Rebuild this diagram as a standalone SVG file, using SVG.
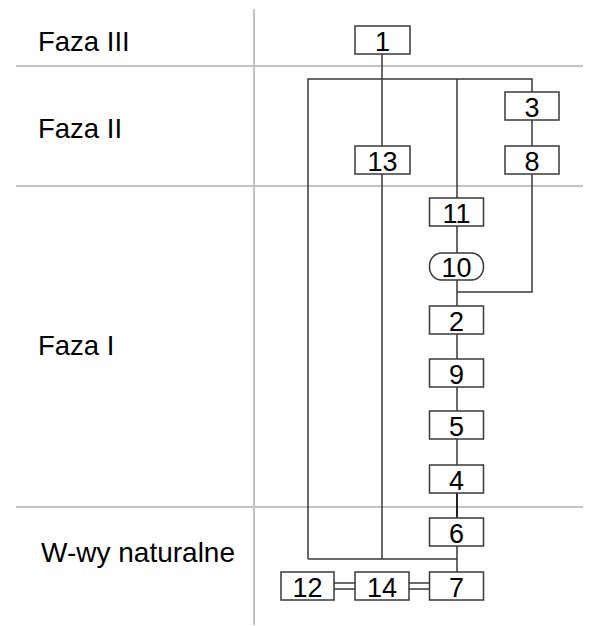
<svg xmlns="http://www.w3.org/2000/svg" width="589" height="626" viewBox="0 0 589 626">
<style>
.grid{stroke:#c4c4c4;stroke-width:2;fill:none}
.lbl{font-family:"Liberation Sans",Arial,sans-serif;font-size:27.5px;fill:#000}
.box{fill:#fff;stroke:#3a3a3a;stroke-width:1.5}
.num{font-family:"Liberation Sans",Arial,sans-serif;font-size:27px;fill:#000;text-anchor:middle}
.con{stroke:#3a3a3a;stroke-width:1.5;fill:none}
</style>
<rect width="589" height="626" fill="#fff"/>
<g id="grid">
<line class="grid" x1="254" y1="9" x2="254" y2="625"/>
<line class="grid" x1="16" y1="66" x2="583" y2="66"/>
<line class="grid" x1="16" y1="186" x2="583" y2="186"/>
<line class="grid" x1="16" y1="507" x2="583" y2="507"/>
</g>
<g id="labels">
<text class="lbl" x="38" y="51">Faza III</text>
<text class="lbl" x="38" y="138">Faza II</text>
<text class="lbl" x="38" y="355">Faza I</text>
<text class="lbl" x="41" y="562" style="font-size:28px">W-wy naturalne</text>
</g>
<g id="connectors">
<path class="con" d="M382,54V146M382,174V559"/>
<path class="con" d="M308,559V79H532V92M532,120V146M532,174V292H457"/>
<path class="con" d="M457,79V198M457,226V253M457,280V306M457,334V359M457,387V411M457,439V465M457,546V572"/>
<path class="con" d="M457,493V518" style="stroke:#222;stroke-width:2"/>
<path class="con" d="M308,559H457"/>
<path class="con" d="M334,583H355M334,589H355M409,583H429M409,589H429"/>
</g>
<g id="n1"><rect class="box" x="355" y="26" width="55" height="28"/><text class="num" x="382.5" y="50.7">1</text></g>
<g id="n3"><rect class="box" x="505" y="92" width="54" height="28"/><text class="num" x="532" y="116.7">3</text></g>
<g id="n13"><rect class="box" x="355" y="146" width="55" height="28"/><text class="num" x="382.5" y="170.7">13</text></g>
<g id="n8"><rect class="box" x="505" y="146" width="54" height="28"/><text class="num" x="532" y="170.7">8</text></g>
<g id="n11"><rect class="box" x="429.5" y="198" width="54" height="28"/><text class="num" x="456.5" y="222.7">11</text></g>
<g id="n10"><rect class="box" x="429.5" y="253" width="54" height="27" rx="12" ry="13"/><text class="num" x="456.5" y="276.7">10</text></g>
<g id="n2"><rect class="box" x="429.5" y="306" width="54" height="28"/><text class="num" x="456.5" y="330.7">2</text></g>
<g id="n9"><rect class="box" x="429.5" y="359" width="54" height="28"/><text class="num" x="456.5" y="383.7">9</text></g>
<g id="n5"><rect class="box" x="429.5" y="411" width="54" height="28"/><text class="num" x="456.5" y="435.7">5</text></g>
<g id="n4"><rect class="box" x="429.5" y="465" width="54" height="28"/><text class="num" x="456.5" y="489.7">4</text></g>
<g id="n6"><rect class="box" x="429.5" y="518" width="54" height="28"/><text class="num" x="456.5" y="542.7">6</text></g>
<g id="n7"><rect class="box" x="429.5" y="572" width="54" height="28"/><text class="num" x="456.5" y="596.7">7</text></g>
<g id="n14"><rect class="box" x="355" y="572" width="54" height="28"/><text class="num" x="382" y="596.7">14</text></g>
<g id="n12"><rect class="box" x="281" y="572" width="53" height="28"/><text class="num" x="307.5" y="596.7">12</text></g>
</svg>
